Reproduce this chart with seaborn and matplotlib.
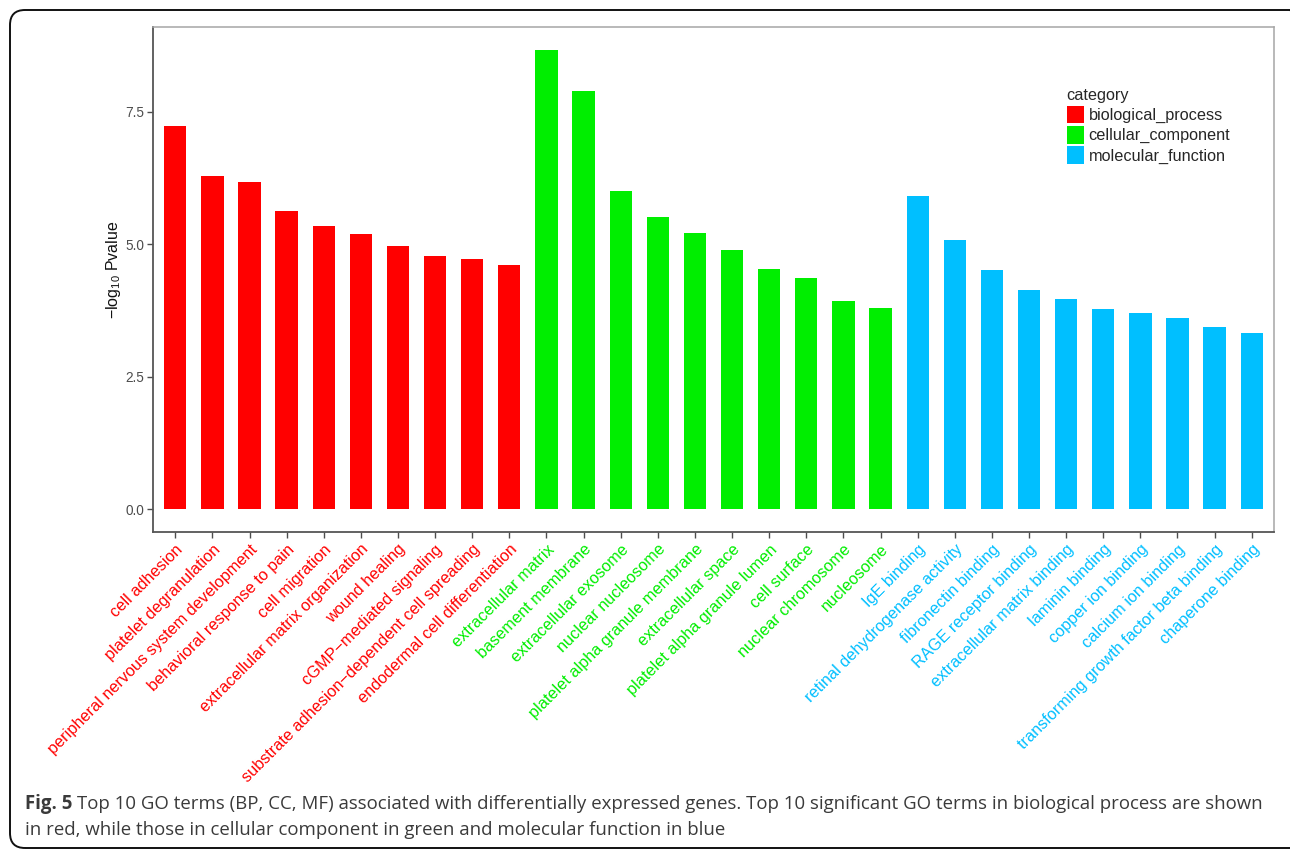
import matplotlib
matplotlib.use("Agg")
import matplotlib.pyplot as plt
from matplotlib.patches import FancyBboxPatch, Patch
import pandas as pd
import seaborn as sns

# GO terms and their -log10 P values
bp_terms = ["cell adhesion", "platelet degranulation", "peripheral nervous system development",
            "behavioral response to pain", "cell migration", "extracellular matrix organization",
            "wound healing", "cGMP\u2212mediated signaling", "substrate adhesion\u2212dependent cell spreading",
            "endodermal cell differentiation"]
bp_values = [7.23, 6.29, 6.17, 5.63, 5.35, 5.20, 4.97, 4.78, 4.72, 4.61]

cc_terms = ["extracellular matrix", "basement membrane", "extracellular exosome", "nuclear nucleosome",
            "platelet alpha granule membrane", "extracellular space", "platelet alpha granule lumen",
            "cell surface", "nuclear chromosome", "nucleosome"]
cc_values = [8.67, 7.89, 6.00, 5.52, 5.21, 4.89, 4.53, 4.36, 3.92, 3.80]

mf_terms = ["IgE binding", "retinal dehydrogenase activity", "fibronectin binding", "RAGE receptor binding",
            "extracellular matrix binding", "laminin binding", "copper ion binding", "calcium ion binding",
            "transforming growth factor beta binding", "chaperone binding"]
mf_values = [5.91, 5.08, 4.51, 4.13, 3.97, 3.77, 3.70, 3.60, 3.43, 3.33]

categories = ["biological_process", "cellular_component", "molecular_function"]
cat_colors = ["#FF0000", "#00EE00", "#00BFFF"]
y_ticks = [0.0, 2.5, 5.0, 7.5]

df = pd.DataFrame({
    "term": bp_terms + cc_terms + mf_terms,
    "value": bp_values + cc_values + mf_values,
    "category": [categories[0]] * len(bp_terms) + [categories[1]] * len(cc_terms)
                + [categories[2]] * len(mf_terms),
})
palette = dict(zip(categories, cat_colors))

sns.set_style("white")
plt.rcParams["font.family"] = ["Liberation Sans", "DejaVu Sans"]
plt.rcParams["mathtext.fontset"] = "custom"
plt.rcParams["mathtext.rm"] = "Liberation Sans"

fig = plt.figure(figsize=(12.9, 8.5), dpi=100)
ax = fig.add_axes([153 / 1290, 1 - 532 / 850, (1274 - 153) / 1290, (532 - 27) / 850])

sns.barplot(data=df, x="term", y="value", hue="category", order=df["term"].tolist(),
            hue_order=categories, palette=palette, dodge=False, width=0.6,
            linewidth=0, saturation=1, legend=False, ax=ax)

ax.set_xlim(-0.6, len(df) - 0.4)
ax.set_ylim(-0.43, 9.10)
ax.set_yticks(y_ticks)
ax.set_yticklabels([f"{t:.1f}" for t in y_ticks])
ax.set_xlabel("")
ax.set_ylabel(r"$\mathregular{-log_{10}}$ Pvalue", fontsize=11.5, color="#111111")
ax.yaxis.set_label_coords(-0.0265, 0.52)

ax.tick_params(axis="y", length=4, width=1, color="#4d4d4d", labelsize=9.8,
               labelcolor="#4d4d4d", pad=2, left=True)
ax.tick_params(axis="x", length=4, width=1, color="#4d4d4d", pad=3, bottom=True)
for lab, cat in zip(ax.get_xticklabels(), df["category"]):
    lab.set_rotation(45)
    lab.set_ha("right")
    lab.set_va("top")
    lab.set_rotation_mode("anchor")
    lab.set_fontsize(11.7)
    lab.set_color(palette[cat])

for side in ["left", "bottom"]:
    ax.spines[side].set_color("#555555")
    ax.spines[side].set_linewidth(1.3)
for side in ["top", "right"]:
    ax.spines[side].set_color("#a6a6a6")
    ax.spines[side].set_linewidth(1.1)

handles = [Patch(facecolor=c, edgecolor="none") for c in cat_colors]
leg = ax.legend(handles, categories, title="category", loc="upper left",
                bbox_to_anchor=(0.815, 0.879), frameon=False, fontsize=11.7,
                title_fontsize=11.7, handlelength=1.05, handleheight=1.3,
                handletextpad=0.3, labelspacing=0.16, borderpad=0, borderaxespad=0)
leg._legend_box.align = "left"

# Rounded frame around the whole figure (in inches), running past the right edge
frame = FancyBboxPatch((0.10, 0.02), 12.95, 8.38,
                       boxstyle="round,pad=0,rounding_size=0.15", transform=fig.dpi_scale_trans,
                       facecolor="none", edgecolor="#111111", linewidth=1.4, clip_on=False)
fig.patches.append(frame)

# Caption
cap_kw = dict(fontsize=13.4, color="#3a3a3a", va="center", family=["Open Sans", "DejaVu Sans"])
fig_lbl = fig.text(25 / 1290, 1 - 804 / 850, "Fig. 5", fontweight="bold", **cap_kw)
fig.canvas.draw()
bb = fig_lbl.get_window_extent()
fig.text((bb.x1 + 5) / 1290, 1 - 804 / 850,
         "Top 10 GO terms (BP, CC, MF) associated with differentially expressed genes. "
         "Top 10 significant GO terms in biological process are shown", **cap_kw)
fig.text(25 / 1290, 1 - 830 / 850,
         "in red, while those in cellular component in green and molecular function in blue", **cap_kw)

fig.savefig("out.png", dpi=100)
